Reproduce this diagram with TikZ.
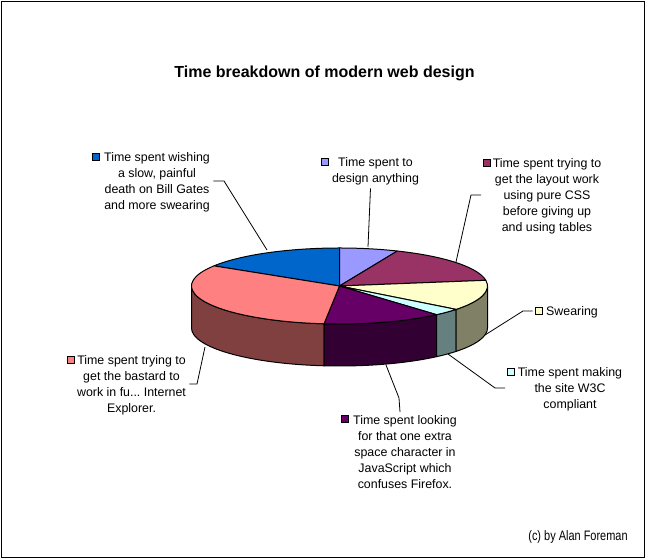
\documentclass[tikz,border=0pt]{standalone}
\usepackage{fontspec}
\setmainfont{Liberation Sans}
\newfontfamily\narrowsans[FakeStretch=0.8]{Liberation Sans}
\usepackage{xcolor}
\definecolor{wishblue}{HTML}{0066CC}
\definecolor{designlilac}{HTML}{9999FF}
\definecolor{cssmaroon}{HTML}{993366}
\definecolor{swearyellow}{HTML}{FFFFCC}
\definecolor{wthreecyan}{HTML}{CCFFFF}
\definecolor{spacepurple}{HTML}{660066}
\definecolor{iepink}{HTML}{FF8080}
\definecolor{wallyellow}{HTML}{808066}
\definecolor{wallcyan}{HTML}{668080}
\definecolor{wallpurple}{HTML}{330033}
\definecolor{wallpink}{HTML}{804040}
\tikzset{
  pieline/.style={draw=black, line width=1pt, line join=round},
  leader/.style={draw=black, line width=0.8pt},
  legendtext/.style={font=\frenchspacing\fontsize{12.4}{16}\selectfont, align=center},
  legendkey/.style={draw=black, line width=0.8pt, fill=#1, minimum size=7pt, inner sep=0pt}
}
\newcommand\piewall[3]{\draw [pieline, fill=#1] (piemid) ++(#2:148pt and 38pt) arc (#2:#3:148pt and 38pt) -- ++(0,-42) arc (#3:#2:148pt and 38pt) -- cycle;}
\newcommand\pietop[3]{\draw [pieline, fill=#1] (piemid) -- +(#2:148pt and 38pt) arc (#2:#3:148pt and 38pt) -- cycle;}

\begin{document}
\begin{tikzpicture}[x=1pt,y=1pt]
\useasboundingbox (0,0) rectangle (646,559);
% Draw outer frame
\draw [line width=1pt] (1.5,1.5) rectangle (644.5,557.5);
% Draw title
\node (title) at (324.5,486) {\fontsize{16}{18}\selectfont\bfseries Time breakdown of modern web design};

% Draw pie walls
\coordinate (piemid) at (339.5,273);
\piewall{wallpink}{180}{264}
\piewall{wallpurple}{264}{311}
\piewall{wallcyan}{311}{322}
\piewall{wallyellow}{322}{360}
% Draw pie top
\pietop{wishblue}{90}{148}
\pietop{designlilac}{67}{90}
\pietop{cssmaroon}{8.6}{67}
\pietop{swearyellow}{-38}{8.6}
\pietop{wthreecyan}{-49}{-38}
\pietop{spacepurple}{-96}{-49}
\pietop{iepink}{148}{264}

% Draw legend labels
\node [legendtext] (wishlabel) at (157,377) {Time spent wishing\\a slow, painful\\death on Bill Gates\\and more swearing};
\node [legendkey=wishblue] (wishkey) at (96,402) {};
\node [legendtext] (designlabel) at (375.5,388) {Time spent to\\design anything};
\node [legendkey=designlilac] (designkey) at (325,397) {};
\node [legendtext] (csslabel) at (547,363) {Time spent trying to\\get the layout work\\using pure CSS\\before giving up\\and using tables};
\node [legendkey=cssmaroon] (csskey) at (487,396) {};
\node [legendtext] (swearlabel) at (572,247) {Swearing};
\node [legendkey=swearyellow] (swearkey) at (538.5,248) {};
\node [legendtext] (wthreelabel) at (570,170) {Time spent making\\the site W3C\\compliant};
\node [legendkey=wthreecyan] (wthreekey) at (511,187) {};
\node [legendtext] (spacelabel) at (405,107) {Time spent looking\\for that one extra\\space character in\\JavaScript which\\confuses Firefox.};
\node [legendkey=spacepurple] (spacekey) at (345,140) {};
\node [legendtext] (ielabel) at (131.5,174) {Time spent trying to\\get the bastard to\\work in fu... Internet\\Explorer.};
\node [legendkey=iepink] (iekey) at (71,199) {};
% Draw copyright
\node (credit) at (578,22) {\narrowsans\fontsize{13.7}{16}\selectfont (c) by Alan Foreman};

% Draw leader lines
\coordinate (wishtip) at (267,309);
\coordinate (designtip) at (368,312);
\coordinate (csstip) at (456,297);
\coordinate (sweartip) at (485,224);
\coordinate (wthreetip) at (448,205);
\coordinate (spacetip) at (386,194);
\coordinate (ietip) at (205,212);
\draw [leader] ([yshift=1pt]wishlabel.east) -- (224,378) -- (wishtip);
\draw [leader] ([xshift=-5pt]designlabel.south) -- (designtip);
\draw [leader] ([xshift=-2pt,yshift=1pt]csskey.west |- csslabel.west) -- (471,364) -- (csstip);
\draw [leader] ([xshift=-2pt]swearkey.west) -- (523,248) -- (sweartip);
\draw [leader] ([xshift=-2pt,yshift=1pt]wthreekey.west |- wthreelabel.west) -- (495,171) -- (wthreetip);
\draw [leader] ([xshift=-5pt]spacelabel.north) -- (399,161) -- (spacetip);
\draw [leader] ([yshift=1pt]ielabel.east) -- (197,175) -- (ietip);

\end{tikzpicture}
\end{document}
